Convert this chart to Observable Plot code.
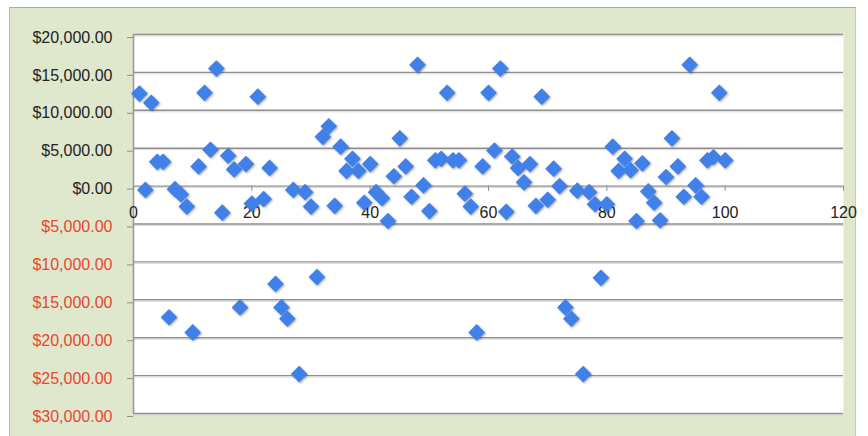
<!DOCTYPE html>
<html>
<head>
<meta charset="utf-8">
<script src="https://cdn.jsdelivr.net/npm/d3@7"></script>
<script src="https://cdn.jsdelivr.net/npm/@observablehq/plot@0.6"></script>
<style>
  html, body { margin: 0; padding: 0; background: #ffffff; }
  #wrap { position: relative; width: 868px; height: 436px; overflow: hidden; background: #ffffff; }
  #panel { position: absolute; left: 9px; top: 7px; width: 847px; height: 429px;
           background: #dfe7cc; border-top: 1.5px solid #a9a9a9; border-left: 1.5px solid #b5b5b5; border-right: 1px solid #c8c8c8; box-sizing: border-box; }
  #chart { position: absolute; left: 0; top: 0; }
  #chart svg { background: transparent !important; }
</style>
</head>
<body>
<div id="wrap"><div id="panel"></div><div id="chart"></div></div>
<script>
// ---- data ----
const xValues = [
  1, 2, 3, 4, 5, 6, 7, 8, 9, 10,
  11, 12, 13, 14, 15, 16, 17, 18, 19, 20,
  21, 22, 23, 24, 25, 26, 27, 28, 29, 30,
  31, 32, 33, 34, 35, 36, 37, 38, 39, 40,
  41, 42, 43, 44, 45, 46, 47, 48, 49, 50,
  51, 52, 53, 54, 55, 56, 57, 58, 59, 60,
  61, 62, 63, 64, 65, 66, 67, 68, 69, 70,
  71, 72, 73, 74, 75, 76, 77, 78, 79, 80,
  81, 82, 83, 84, 85, 86, 87, 88, 89, 90,
  91, 92, 93, 94, 95, 96, 97, 98, 99, 100
];
const yValues = [
  12200, -500, 11000, 3200, 3200, -17300, -400, -1100, -2700, -19300,
  2600, 12300, 4800, 15500, -3500, 4000, 2200, -16000, 2900, -2300,
  11800, -1700, 2400, -12900, -16000, -17500, -500, -24800, -800, -2700,
  -12000, 6500, 7900, -2600, 5200, 2000, 3600, 2000, -2200, 2900,
  -800, -1600, -4600, 1300, 6300, 2600, -1400, 16000, 100, -3300,
  3400, 3600, 12300, 3400, 3400, -1000, -2700, -19300, 2600, 12300,
  4700, 15500, -3400, 3900, 2400, 500, 2900, -2600, 11800, -1800,
  2300, 0, -16000, -17500, -600, -24800, -800, -2400, -12100, -2400,
  5200, 2000, 3600, 2100, -4600, 3000, -700, -2200, -4500, 1200,
  6300, 2600, -1400, 16000, 100, -1400, 3400, 3800, 12300, 3400
];
const xTicks = [0, 20, 40, 60, 80, 100, 120];
const xTickLabels = ["0", "20", "40", "60", "80", "100", "120"];
const yTicks = [20000, 15000, 10000, 5000, 0, -5000, -10000, -15000, -20000, -25000, -30000];
const yTickLabels = ["$20,000.00", "$15,000.00", "$10,000.00", "$5,000.00", "$0.00",
  "$5,000.00", "$10,000.00", "$15,000.00", "$20,000.00", "$25,000.00", "$30,000.00"];

const points = xValues.map((x, i) => ({x, y: yValues[i]}));
const yLabelOf = new Map(yTicks.map((t, i) => [t, yTickLabels[i]]));
const xLabelOf = new Map(xTicks.map((t, i) => [t, xTickLabels[i]]));
const posTicks = yTicks.filter(t => t >= 0);
const negTicks = yTicks.filter(t => t < 0);

const FONT = "Liberation Sans, Arial, sans-serif";
const GRID = "#8f8f8f";

const chart = Plot.plot({
  width: 868,
  height: 436,
  marginLeft: 133,
  marginRight: 25,
  marginTop: 34,
  marginBottom: 23,
  style: {background: "transparent", fontFamily: FONT, fontSize: "16px"},
  x: {domain: [0, 120], axis: null},
  y: {domain: [-30000, 20000], axis: null},
  marks: [
    Plot.frame({fill: "white", stroke: null}),
    Plot.gridY(yTicks, {stroke: GRID, strokeOpacity: 1, strokeWidth: 1.4}),
    Plot.gridY(yTicks, {stroke: "#cfcfcf", strokeOpacity: 0.8, strokeWidth: 1, dy: 1.5}),
    Plot.ruleX([0], {stroke: "#9a9a9a", strokeWidth: 1.6}),
    Plot.ruleX(xTicks, {x: d => d, y1: 0, y2: -700, stroke: GRID, strokeWidth: 1}),
    Plot.axisY(posTicks, {tickSize: 6, tickPadding: 15, stroke: GRID, fill: "#222222", label: null,
      tickFormat: d => yLabelOf.get(d), dy: 3, fontSize: 16}),
    Plot.axisY(negTicks, {tickSize: 6, tickPadding: 15, stroke: GRID, fill: "#e8462e", label: null,
      tickFormat: d => yLabelOf.get(d), dy: 3, fontSize: 16}),
    Plot.text(xTicks, {x: d => d, y: () => 0, text: d => xLabelOf.get(d), dy: 27,
      fill: "#222222", fontSize: 16, textAnchor: "middle"}),
    Plot.dot(points, {x: "x", y: "y", symbol: "diamond2", r: 7.5, fill: "#3f81e8", stroke: null})
  ]
});
document.getElementById("chart").appendChild(chart);
chart.querySelectorAll('g[aria-label="dot"]').forEach(g => {
  g.style.filter = "drop-shadow(1px 1.5px 1px rgba(0,0,0,0.35))";
});
</script>
</body>
</html>
